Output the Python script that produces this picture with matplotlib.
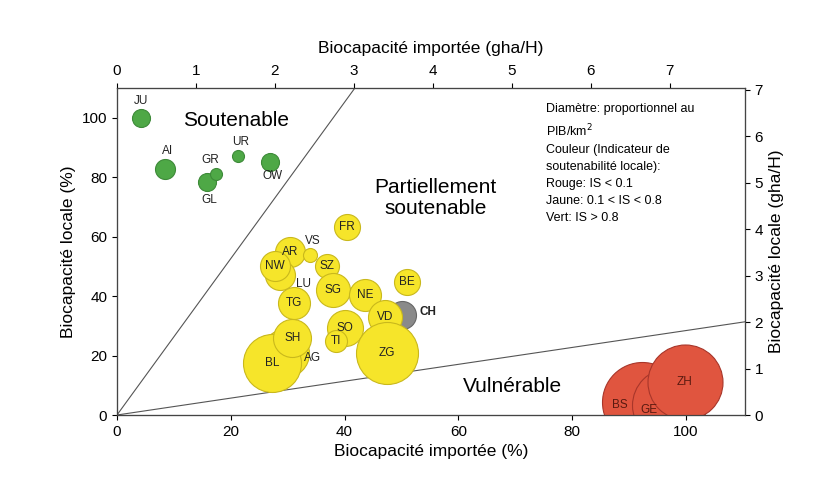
import matplotlib.pyplot as plt

plt.rcParams['font.family'] = ['Liberation Sans', 'DejaVu Sans']

# cantons: importée (%), locale (%), diamètre (~PIB/km2), couleur
cantons = ['JU', 'AI', 'GL', 'GR', 'UR', 'OW',
           'FR', 'AR', 'VS', 'LU', 'NW', 'SZ', 'BE', 'SG', 'NE', 'TG',
           'CH', 'VD', 'SO', 'TI', 'AG', 'BL', 'SH', 'ZG',
           'BS', 'GE', 'ZH']
importee = [4.2, 8.4, 15.8, 17.4, 21.3, 26.9,
            40.4, 30.4, 33.9, 28.6, 27.8, 36.9, 51.0, 38.0, 43.6, 31.1,
            50.1, 47.1, 40.1, 38.5, 29.5, 27.2, 30.8, 47.5,
            92.3, 97.0, 99.8]
locale = [100.0, 82.8, 78.4, 81.0, 87.0, 85.0,
          63.2, 54.7, 53.7, 47.0, 50.0, 50.0, 44.6, 41.9, 40.5, 37.8,
          33.8, 32.8, 29.4, 25.0, 21.0, 17.6, 26.0, 21.0,
          4.4, 3.4, 11.1]
diametre = [18, 20, 18, 12, 12, 18,
            26, 30, 14, 30, 30, 24, 26, 34, 32, 32,
            28, 34, 36, 22, 48, 58, 38, 62,
            80, 74, 75]
groupe = ['V'] * 6 + ['J'] * 10 + ['CH'] + ['J'] * 7 + ['R'] * 3

couleurs = {'V': ('#4ea846', '#3d8a38'), 'J': ('#f6e52a', '#c9b81c'),
            'R': ('#e0553f', '#a8362a'), 'CH': ('#8a8a8a', '#666666')}

# label offsets (points)
decal = {'JU': (0, 12), 'AI': (2, 13), 'GL': (2, -13), 'GR': (-4, 10), 'UR': (2, 10),
         'OW': (2, -10), 'LU': (17, -6), 'VS': (2, 10), 'AR': (0, 0), 'AG': (20, -4),
         'CH': (19, 2), 'GE': (-14, -4), 'BS': (-16, -2), 'TI': (0, 0)}

fig = plt.figure(figsize=(8.14, 4.82), dpi=100)
ax = fig.add_axes([0.1437, 0.139, 0.7715, 0.6784])

for c, x, y, d, g in zip(cantons, importee, locale, diametre, groupe):
    fc, ec = couleurs[g]
    ax.scatter(x, y, s=(d * 0.72) ** 2, color=fc, edgecolor=ec, linewidth=0.8, zorder=3)
    dx, dy = decal.get(c, (0, 0))
    col = '#5a1a10' if g == 'R' else '#222222'
    weight = 'bold' if c == 'CH' else 'normal'
    ax.annotate(c, (x, y), xytext=(dx, dy), textcoords='offset points',
                ha='center', va='center', fontsize=8.5, color=col, weight=weight, zorder=5)

# limites de zones
xs = [0, 120]
ax.plot(xs, [0, 120 * 2.63], color='#555555', lw=0.8, zorder=1)
ax.plot(xs, [0, 120 * 0.284], color='#555555', lw=0.8, zorder=1)

ax.set_xlim(0, 110.4)
ax.set_ylim(0, 110)
ax.set_xticks([0, 20, 40, 60, 80, 100])
ax.set_yticks([0, 20, 40, 60, 80, 100])
ax.tick_params(labelsize=11)
ax.set_xlabel('Biocapacité importée (%)', fontsize=12.5)
ax.set_ylabel('Biocapacité locale (%)', fontsize=12.5)

axt = ax.twiny()
axt.set_xlim(0, 7.95)
axt.set_xticks(range(8))
axt.tick_params(labelsize=11)
axt.set_xlabel('Biocapacité importée (gha/H)', fontsize=12.5, labelpad=8)

axr = ax.twinx()
axr.set_ylim(0, 7.04)
axr.set_yticks(range(8))
axr.tick_params(labelsize=11)
axr.set_ylabel('Biocapacité locale (gha/H)', fontsize=12.5)

for a in (ax, axt, axr):
    for s in a.spines.values():
        s.set_color('#444444')
        s.set_linewidth(0.8)

ax.text(21, 99, 'Soutenable', fontsize=15, ha='center', va='center')
ax.text(56, 73, 'Partiellement\nsoutenable', fontsize=15, ha='center', va='center',
        linespacing=1.1)
ax.text(69.5, 9.5, 'Vulnérable', fontsize=15, ha='center', va='center')

legende = ('Diamètre: proportionnel au\nPIB/km$^2$\nCouleur (Indicateur de\n'
           'soutenabilité locale):\nRouge: IS < 0.1\nJaune: 0.1 < IS < 0.8\nVert: IS > 0.8')
ax.text(75.5, 105, legende, fontsize=9, ha='left', va='top', linespacing=1.55)

fig.savefig('out.png', dpi=100)
